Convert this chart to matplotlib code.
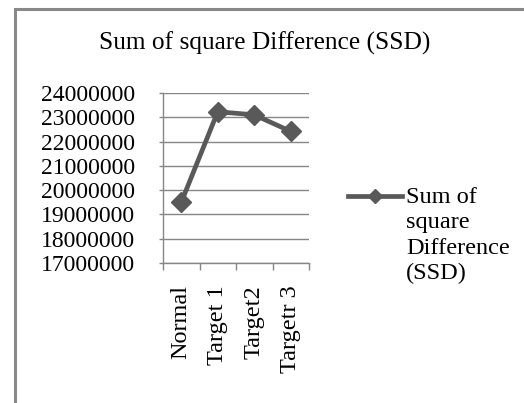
import numpy as np
import matplotlib as mpl
import matplotlib.pyplot as plt
from matplotlib.lines import Line2D
from matplotlib.patches import Rectangle

categories = ["Normal", "Target 1", "Target2", "Targetr 3"]
ssd_values = [19500000, 23230000, 23100000, 22420000]
y_ticks = [17000000, 18000000, 19000000, 20000000,
           21000000, 22000000, 23000000, 24000000]
series_name = "Sum of\nsquare\nDifference\n(SSD)"
title = "Sum of square Difference (SSD)"


def main():
    mpl.rcParams["font.family"] = ["Liberation Serif", "DejaVu Serif"]
    line_color = "#595959"
    grid_color = "#868686"

    fig = plt.figure(figsize=(5.24, 4.03), dpi=100)
    fig.patch.set_facecolor("white")

    # chart frame, open on the right and bottom
    fig.add_artist(Rectangle((15 / 524, -0.1), 1.2, 1 - 9 / 403 + 0.1,
                             transform=fig.transFigure, fill=False,
                             edgecolor="#888888", linewidth=2.2))

    ax = fig.add_axes([163 / 524, 1 - 263 / 403, 146 / 524, 170 / 403])
    x = np.arange(len(categories))
    ax.plot(x, ssd_values, color=line_color, linewidth=3.4,
            marker="D", markersize=10, markerfacecolor=line_color,
            markeredgecolor=line_color, solid_joinstyle="miter", zorder=3)

    ax.set_xlim(-0.5, len(categories) - 0.5)
    ax.set_ylim(y_ticks[0], y_ticks[-1])
    ax.set_yticks(y_ticks)
    ax.set_yticklabels([str(v) for v in y_ticks], fontsize=17)
    ax.yaxis.grid(True, color=grid_color, linewidth=1)
    ax.set_axisbelow(True)

    ax.set_xticks(x)
    ax.set_xticklabels(categories, rotation=90, fontsize=17.5,
                       ha="center", va="top")
    ax.set_xticks(np.arange(-0.5, len(categories)), minor=True)
    ax.tick_params(axis="x", which="major", length=0, pad=16)
    ax.tick_params(axis="x", which="minor", length=5, color=grid_color,
                   width=1)
    ax.tick_params(axis="y", length=3, color=grid_color, width=1, pad=17)

    for side in ["top", "right"]:
        ax.spines[side].set_visible(False)
    for side in ["left", "bottom"]:
        ax.spines[side].set_color(grid_color)
        ax.spines[side].set_linewidth(1)

    fig.text(265 / 524, 1 - 43 / 403, title, fontsize=18.3,
             ha="center", va="center")

    # legend entry drawn by hand so the marker sits on the first line
    ly = 1 - 196 / 403
    fig.add_artist(Line2D([348 / 524, 402 / 524], [ly, ly],
                          transform=fig.transFigure, color=line_color,
                          linewidth=3.4))
    fig.add_artist(Line2D([375 / 524], [ly], transform=fig.transFigure,
                          marker="D", markersize=7, color=line_color))
    fig.text(406 / 524, 1 - 187 / 403, series_name, fontsize=17.5,
             ha="left", va="top", linespacing=1.27)

    fig.savefig("out.png", dpi=100)


if __name__ == "__main__":
    main()
